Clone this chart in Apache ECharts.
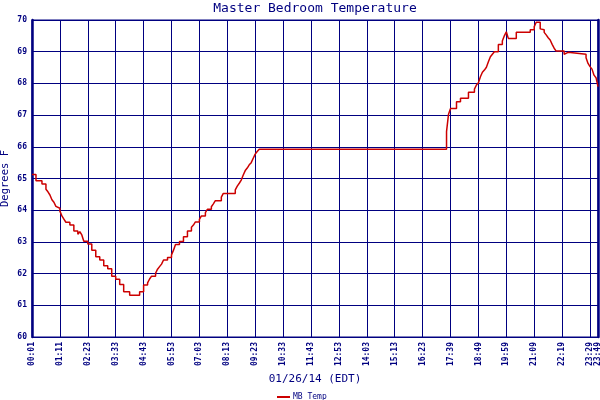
<!DOCTYPE html>
<html>
<head>
<meta charset="utf-8">
<script src="https://cdn.jsdelivr.net/npm/echarts@6/dist/echarts.min.js"></script>
<style>
  html, body { margin: 0; padding: 0; background: #fff; }
  #chart { width: 600px; height: 400px; }
</style>
</head>
<body>
<div id="chart"></div>
<script>
// samples every 5 minutes from 00:01, with two longer gaps in the log
var startMinute = 1;
var stepMinutes = 5;
var sampleCount = 285;
var gapAt = [20, 208];
var gapMinutes = [2, 6];

// temperature changes: category index where the reading changes, and the new reading
var stepIndex = [0, 2, 5, 7, 8, 9, 10, 11, 12, 13, 14, 15, 16, 17, 19, 21, 23, 24, 25, 26,
  28, 30, 32, 34, 36, 38, 40, 42, 44, 46, 49, 54, 56, 58, 59, 60, 62, 63, 64, 65,
  66, 68, 70, 71, 72, 74, 76, 78, 80, 81, 82, 84, 85, 87, 88, 90, 91, 92, 95, 96,
  102, 103, 104, 105, 106, 107, 108, 109, 110, 111, 112, 113, 114, 208, 209, 210, 213, 215, 219, 222,
  223, 224, 225, 226, 227, 228, 229, 230, 231, 232, 234, 236, 237, 238, 239, 243, 250, 252, 253, 255,
  256, 257, 258, 259, 260, 261, 262, 263, 267, 268, 269, 278, 279, 280, 281, 282, 283, 284];
var stepTemp = [65.13, 64.93, 64.83, 64.66, 64.58, 64.48, 64.33, 64.25, 64.12, 64.06, 63.97, 63.82, 63.72, 63.62, 63.53, 63.34, 63.24, 63.32, 63.22, 63.02,
  62.93, 62.74, 62.53, 62.43, 62.25, 62.15, 61.92, 61.82, 61.66, 61.43, 61.32, 61.43, 61.64, 61.71, 61.83, 61.92, 62.01, 62.14, 62.22, 62.30,
  62.43, 62.51, 62.59, 62.74, 62.92, 63.01, 63.16, 63.34, 63.46, 63.53, 63.63, 63.71, 63.82, 63.92, 64.03, 64.11, 64.20, 64.30, 64.41, 64.53,
  64.64, 64.76, 64.85, 64.95, 65.11, 65.25, 65.33, 65.43, 65.50, 65.64, 65.77, 65.85, 65.92, 66.48, 67.03, 67.21, 67.42, 67.53, 67.72, 67.82,
  67.95, 68.02, 68.21, 68.35, 68.42, 68.51, 68.68, 68.84, 68.92, 69.00, 69.23, 69.34, 69.50, 69.63, 69.42, 69.61, 69.69, 69.79, 69.93, 69.72,
  69.69, 69.61, 69.53, 69.44, 69.37, 69.23, 69.11, 69.02, 68.92, 68.98, 68.92, 68.81, 68.63, 68.53, 68.45, 68.26, 68.18, 67.90];

var labelEvery = 14;
var yTicks = [60, 61, 62, 63, 64, 65, 66, 67, 68, 69, 70];

function pad(n) { return (n < 10 ? '0' : '') + n; }

var times = [];
for (var i = 0; i < sampleCount; i++) {
  var m = startMinute + i * stepMinutes;
  for (var g = 0; g < gapAt.length; g++) {
    if (i >= gapAt[g]) m += gapMinutes[g];
  }
  times.push(pad(Math.floor(m / 60)) + ':' + pad(m % 60));
}

var points = stepIndex.map(function (idx, k) { return [idx, stepTemp[k]]; });

function showTick(index) {
  return index % labelEvery === 0 || index === sampleCount - 1;
}

var navy = '#000080';
var mono = 'DejaVu Sans Mono';

var chart = echarts.init(document.getElementById('chart'), null, { renderer: 'canvas' });
chart.setOption({
  animation: false,
  backgroundColor: '#fff',
  title: {
    text: 'Master Bedroom Temperature',
    left: 315, textAlign: 'center', top: 1, padding: 0,
    textStyle: { color: navy, fontSize: 13, fontWeight: 'normal', fontFamily: mono, lineHeight: 15 }
  },
  legend: {
    left: 272, top: 388,
    itemWidth: 13, itemHeight: 2, itemGap: 4,
    icon: 'rect',
    textStyle: { color: navy, fontSize: 8, fontFamily: mono, padding: [0, 0, 0, -2] },
    data: ['MB Temp']
  },
  grid: {
    left: 32, right: 2, top: 20, bottom: 63,
    containLabel: false,
    outerBoundsMode: 'none',
    show: true, borderColor: navy, borderWidth: 1
  },
  xAxis: {
    type: 'category',
    data: times,
    boundaryGap: false,
    name: '01/26/14 (EDT)',
    nameLocation: 'middle',
    nameGap: 37,
    nameMoveOverlap: false,
    nameTextStyle: { color: navy, fontSize: 11, fontFamily: mono },
    axisLine: { lineStyle: { color: navy, width: 1 } },
    axisTick: { show: false },
    axisLabel: {
      interval: function (index) { return showTick(index); },
      showMaxLabel: true,
      hideOverlap: false,
      rotate: 90, margin: 5,
      color: navy, fontSize: 8, fontWeight: 'bold', fontFamily: mono
    },
    splitLine: {
      show: true,
      interval: function (index) { return showTick(index); },
      lineStyle: { color: navy, width: 1 }
    }
  },
  yAxis: [{
    type: 'value',
    min: yTicks[0], max: yTicks[yTicks.length - 1], interval: 1,
    name: 'Degrees F',
    nameLocation: 'middle',
    nameRotate: 90,
    nameGap: 21,
    nameMoveOverlap: false,
    nameTextStyle: { color: navy, fontSize: 10.5, fontFamily: mono },
    axisLine: { show: true, lineStyle: { color: navy, width: 2.5 } },
    axisTick: { show: false },
    axisLabel: { margin: 5, color: navy, fontSize: 8, fontWeight: 'bold', fontFamily: mono },
    splitLine: { show: true, lineStyle: { color: navy, width: 1 } }
  }, {
    type: 'value', position: 'right',
    min: yTicks[0], max: yTicks[yTicks.length - 1], interval: 1,
    axisLine: { show: true, lineStyle: { color: navy, width: 2.5 } },
    axisTick: { show: false }, axisLabel: { show: false }, splitLine: { show: false }
  }],
  series: [{
    name: 'MB Temp',
    type: 'line',
    step: 'end',
    data: points,
    symbol: 'none',
    itemStyle: { color: '#cc0000' },
    lineStyle: { color: '#cc0000', width: 1.5 }
  }]
});
</script>
</body>
</html>
